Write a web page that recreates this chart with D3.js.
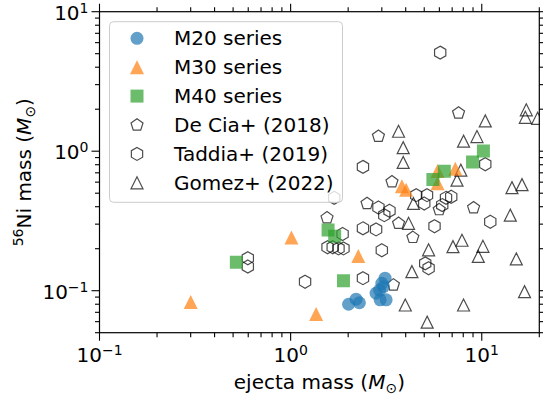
<!DOCTYPE html>
<html>
<head>
<meta charset="utf-8">
<script src="https://cdn.jsdelivr.net/npm/d3@7"></script>
<style>
  html, body { margin: 0; padding: 0; background: #fff; }
  svg { display: block; font-family: "DejaVu Sans", sans-serif; }
</style>
</head>
<body>
<svg id="chart" width="543" height="398"></svg>
<script>
// Model series: ejecta mass (Msun) and 56Ni mass (Msun)
const m20Ejecta = [2.01, 2.20, 2.29, 2.80, 2.94, 3.16, 3.06, 3.12, 3.00, 2.92];
const m20Ni     = [0.080, 0.087, 0.082, 0.096, 0.086, 0.086, 0.107, 0.123, 0.113, 0.101];

const m30Ejecta = [0.30, 1.01, 1.36, 2.26, 3.82, 4.02, 5.87, 5.87, 7.27];
const m30Ni     = [0.083, 0.241, 0.068, 0.177, 0.56, 0.53, 0.72, 0.59, 0.75];

const m40Ejecta = [0.52, 1.57, 1.70, 1.89, 5.55, 6.37, 8.95, 10.2];
const m40Ni     = [0.16, 0.272, 0.246, 0.118, 0.627, 0.719, 0.838, 1.005];

// Observed samples
const deCiaEjecta = [1.55, 2.51, 3.39, 3.67, 4.36, 9.06, 3.45, 2.88, 7.56, 5.99];
const deCiaNi     = [0.333, 0.422, 0.603, 0.304, 0.241, 0.393, 0.110, 1.28, 1.88, 0.381];

const taddiaEjecta = [6.06, 10.43, 2.39, 1.69, 4.54, 5.17, 5.00, 6.50, 6.92, 6.21,
                      2.88, 3.29, 3.09, 2.39, 2.80, 5.66, 11.08, 1.87, 1.56, 1.66,
                      1.78, 1.89, 3.00, 1.19, 2.39, 5.06, 5.27, 0.597, 0.597];
const taddiaNi     = [5.09, 0.807, 0.772, 0.463, 0.484, 0.484, 0.422, 0.463, 0.471, 0.411,
                      0.395, 0.374, 0.348, 0.280, 0.275, 0.290, 0.312, 0.255, 0.205, 0.205,
                      0.201, 0.201, 0.195, 0.116, 0.123, 0.157, 0.145, 0.171, 0.149];

const gomezEjecta = [3.67, 3.88, 3.88, 8.03, 9.44, 10.43, 17.1, 16.9, 19.6, 7.77,
                     7.42, 14.39, 16.24, 4.39, 4.14, 14.1, 5.27, 7.88, 7.07, 10.14,
                     9.59, 15.16, 4.31, 3.98, 8.03, 5.18, 16.74];
const gomezNi     = [1.39, 1.06, 0.831, 1.18, 1.274, 1.648, 1.98, 1.75, 1.72, 0.731,
                     0.620, 0.548, 0.576, 0.422, 0.304, 0.348, 0.1965, 0.230, 0.207, 0.208,
                     0.176, 0.169, 0.137, 0.079, 0.079, 0.0595, 0.0984];

const xTickExponents = [-1, 0, 1];
const yTickExponents = [-1, 0, 1];
const legendLabels = ["M20 series", "M30 series", "M40 series",
                      "De Cia+ (2018)", "Taddia+ (2019)", "Gomez+ (2022)"];

const W = 543, H = 398;
const margin = { left: 99.5, right: 3.7, top: 11.7, bottom: 65.3 };
const x = d3.scaleLog().domain([0.1, 20]).range([margin.left, W - margin.right]);
const y = d3.scaleLog().domain([0.05, 10]).range([H - margin.bottom, margin.top]);

const svg = d3.select("#chart");

// Marker shapes (centred on the origin)
function polygon(n, r) {
  const pts = d3.range(n).map(i => {
    const a = -Math.PI / 2 + i * 2 * Math.PI / n;
    return [r * Math.cos(a), r * Math.sin(a)];
  });
  return "M" + pts.map(p => p.join(",")).join("L") + "Z";
}
const shapes = {
  circle: r => `M${r},0A${r},${r} 0 1,1 ${-r},0A${r},${r} 0 1,1 ${r},0Z`,
  triangle: r => `M0,${-r}L${-r},${r}L${r},${r}Z`,
  square: r => `M${-r},${-r}H${r}V${r}H${-r}Z`,
  pentagon: r => polygon(5, r),
  hexagon: r => polygon(6, r)
};

const series = [
  { ex: m20Ejecta, ni: m20Ni, shape: "circle", r: 6.5, color: "#1f77b4", filled: true },
  { ex: m30Ejecta, ni: m30Ni, shape: "triangle", r: 7, color: "#ff7f0e", filled: true },
  { ex: m40Ejecta, ni: m40Ni, shape: "square", r: 6.5, color: "#2ca02c", filled: true },
  { ex: deCiaEjecta, ni: deCiaNi, shape: "pentagon", r: 6.3, filled: false },
  { ex: taddiaEjecta, ni: taddiaNi, shape: "hexagon", r: 6.5, filled: false },
  { ex: gomezEjecta, ni: gomezNi, shape: "triangle", r: 6, filled: false }
];

function styleMarker(sel, s) {
  if (s.filled) {
    sel.attr("fill", s.color).attr("fill-opacity", 0.7).attr("stroke", "none");
  } else {
    sel.attr("fill", "none").attr("stroke", "#000").attr("stroke-opacity", 0.7)
       .attr("stroke-width", 1.2);
  }
}

svg.append("defs").append("clipPath").attr("id", "plotClip")
  .append("rect")
  .attr("x", margin.left).attr("y", margin.top)
  .attr("width", W - margin.left - margin.right)
  .attr("height", H - margin.top - margin.bottom);

const plot = svg.append("g").attr("clip-path", "url(#plotClip)");

// Observations underneath, model series on top
const drawOrder = [3, 4, 5, 0, 1, 2];
drawOrder.forEach(k => {
  const s = series[k];
  const pts = s.ex.map((v, i) => [v, s.ni[i]]);
  plot.append("g").selectAll("path").data(pts).join("path")
    .attr("d", shapes[s.shape](s.r))
    .attr("transform", d => `translate(${x(d[0])},${y(d[1])})`)
    .call(sel => styleMarker(sel, s));
});

// Axes on all four sides, ticks pointing outwards
const x0 = margin.left, x1 = W - margin.right, y0 = H - margin.bottom, y1 = margin.top;
const majorLen = 8, minorLen = 4.5;

function logTicks(domain) {
  const lo = Math.floor(Math.log10(domain[0])), hi = Math.ceil(Math.log10(domain[1]));
  const major = [], minor = [];
  for (let e = lo; e <= hi; e++) {
    for (let m = 1; m <= 9; m++) {
      const v = m * Math.pow(10, e);
      if (v < domain[0] * 0.9999 || v > domain[1] * 1.0001) continue;
      (m === 1 ? major : minor).push(v);
    }
  }
  return { major, minor };
}
const xt = logTicks(x.domain());
const yt = logTicks(y.domain());

const axes = svg.append("g").attr("stroke", "#000").attr("stroke-width", 1.1);
function tickLines(vals, len, horizontal) {
  vals.forEach(v => {
    if (horizontal) {
      const px = x(v);
      axes.append("line").attr("x1", px).attr("x2", px).attr("y1", y0).attr("y2", y0 + len);
      axes.append("line").attr("x1", px).attr("x2", px).attr("y1", y1).attr("y2", y1 - len);
    } else {
      const py = y(v);
      axes.append("line").attr("y1", py).attr("y2", py).attr("x1", x0).attr("x2", x0 - len);
      axes.append("line").attr("y1", py).attr("y2", py).attr("x1", x1).attr("x2", x1 + len);
    }
  });
}
tickLines(xt.major, majorLen, true);
tickLines(xt.minor, minorLen, true);
tickLines(yt.major, majorLen, false);
tickLines(yt.minor, minorLen, false);

svg.append("rect")
  .attr("x", x0).attr("y", y1).attr("width", x1 - x0).attr("height", y0 - y1)
  .attr("fill", "none").attr("stroke", "#000").attr("stroke-width", 1.2);

// Power-of-ten tick labels
function powerLabel(g, exp) {
  g.append("tspan").text("10");
  g.append("tspan").attr("font-size", 14).attr("dy", -7)
    .text(exp < 0 ? "\u2212" + Math.abs(exp) : String(exp));
}
xTickExponents.forEach(e => {
  const t = svg.append("text").attr("x", x(Math.pow(10, e))).attr("y", 362)
    .attr("text-anchor", "middle").attr("font-size", 20).attr("fill", "#000");
  powerLabel(t, e);
});
yTickExponents.forEach(e => {
  const t = svg.append("text").attr("x", x0 - majorLen - 3).attr("y", y(Math.pow(10, e)) + 8)
    .attr("text-anchor", "end").attr("font-size", 20).attr("fill", "#000");
  powerLabel(t, e);
});

// Axis titles
const xl = svg.append("text").attr("x", (x0 + x1) / 2).attr("y", 389)
  .attr("text-anchor", "middle").attr("font-size", 20).attr("fill", "#000");
xl.append("tspan").text("ejecta mass (");
xl.append("tspan").attr("font-style", "italic").text("M");
xl.append("tspan").attr("font-size", 14).attr("dy", 4).text("\u2299");
xl.append("tspan").attr("dy", -4).text(")");

const yl = svg.append("text")
  .attr("transform", `translate(31,${(y0 + y1) / 2}) rotate(-90)`)
  .attr("text-anchor", "middle").attr("font-size", 20).attr("fill", "#000");
yl.append("tspan").attr("font-size", 14).attr("dy", -8).text("56");
yl.append("tspan").attr("dy", 8).text("Ni mass (");
yl.append("tspan").attr("font-style", "italic").text("M");
yl.append("tspan").attr("font-size", 14).attr("dy", 4).text("\u2299");
yl.append("tspan").attr("dy", -4).text(")");

// Legend
const lg = svg.append("g");
lg.append("rect")
  .attr("x", 109.5).attr("y", 21.7).attr("width", 233).attr("height", 180.6)
  .attr("rx", 4).attr("fill", "#fff").attr("fill-opacity", 0.8)
  .attr("stroke", "#cccccc").attr("stroke-width", 1);
series.forEach((s, i) => {
  const cy = 38.3 + i * 28.9;
  lg.append("path").attr("d", shapes[s.shape](s.r))
    .attr("transform", `translate(137,${cy})`)
    .call(sel => styleMarker(sel, s));
  lg.append("text").attr("x", 174).attr("y", cy + 7).attr("font-size", 20)
    .attr("fill", "#000").text(legendLabels[i]);
});
</script>
</body>
</html>
